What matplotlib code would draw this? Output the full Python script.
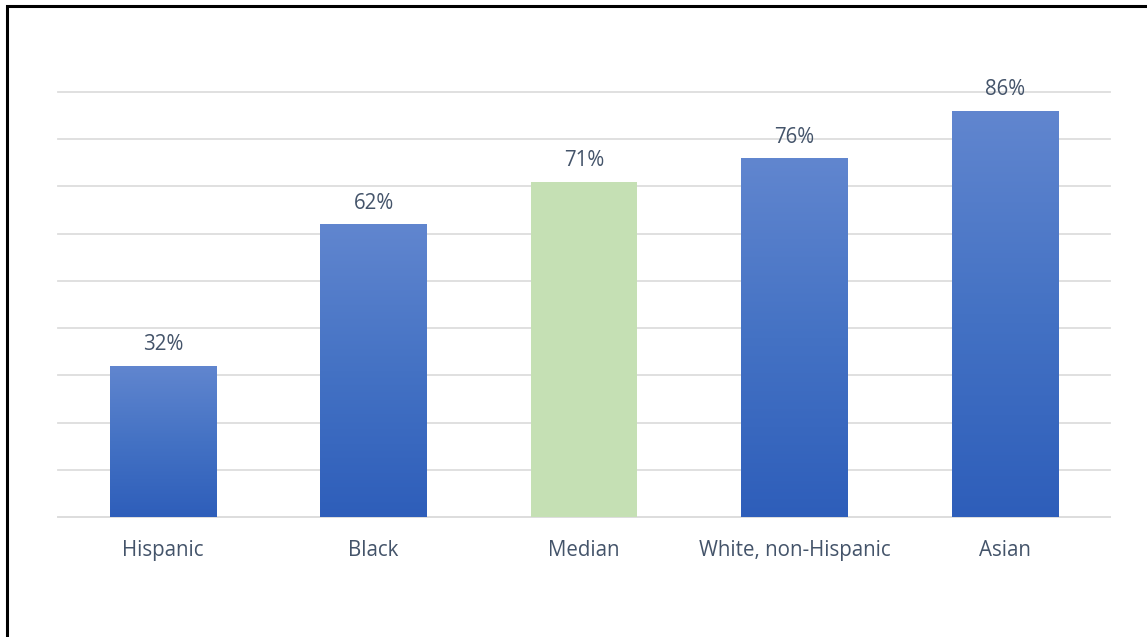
import matplotlib
matplotlib.use("Agg")
from matplotlib import pyplot as plt
from matplotlib.colors import LinearSegmentedColormap
from matplotlib.patches import Rectangle
import numpy as np

categories = ["Hispanic", "Black", "Median", "White, non-Hispanic", "Asian"]
values = [32, 62, 71, 76, 86]
labels = ["32%", "62%", "71%", "76%", "86%"]

text_col = "#44546A"
plt.rcParams['font.family'] = ['Open Sans', 'DejaVu Sans']

fig = plt.figure(figsize=(11.47, 6.37), dpi=100)
ax = fig.add_axes([58/1147, 120/637, 1052/1147, 425/637])

x = np.arange(len(categories))
bars = ax.bar(x, values, width=0.505, color="none", zorder=3)

cmap = LinearSegmentedColormap.from_list("blue", ["#2E5EBA", "#4472C4", "#6186CF"])
grad = np.linspace(0, 1, 256).reshape(-1, 1)
for i, b in enumerate(bars):
    if categories[i] == "Median":
        b.set_facecolor("#C5E0B4")
        continue
    x0, w, h = b.get_x(), b.get_width(), b.get_height()
    im = ax.imshow(grad, cmap=cmap, aspect="auto", origin="lower",
                   extent=[x0, x0 + w, 0, h], zorder=3)
    im.set_clip_path(b)

for i, v in enumerate(values):
    ax.annotate(labels[i], (x[i], v), xytext=(0, 7.5), textcoords="offset points",
                ha="center", va="bottom", fontsize=14.8, color=text_col)

ax.set_xlim(-0.5, 4.5)
ax.set_ylim(0, 90)
ax.set_yticks(np.arange(0, 91, 10))
ax.yaxis.grid(True, color="#DDDDDD", linewidth=1.3, zorder=0)
for gl in ax.get_ygridlines():
    gl.set_clip_on(False)
ax.set_axisbelow(True)
ax.tick_params(axis="y", left=False, labelleft=False)
ax.tick_params(axis="x", length=0, pad=16.5, labelsize=14.8, labelcolor=text_col)
ax.set_xticks(x)
ax.set_xticklabels(categories)
for s in ["top", "right", "left"]:
    ax.spines[s].set_visible(False)
ax.spines["bottom"].set_color("#DDDDDD")
ax.spines["bottom"].set_linewidth(1.3)

# outer frame (only left and top edges fall inside the picture)
fig.patches.append(Rectangle((6.5/1147, -0.1), 1.2, 1.1 - 6.5/637,
                             transform=fig.transFigure, fill=False,
                             edgecolor="black", linewidth=2.2))

fig.savefig("out.png", dpi=100)
